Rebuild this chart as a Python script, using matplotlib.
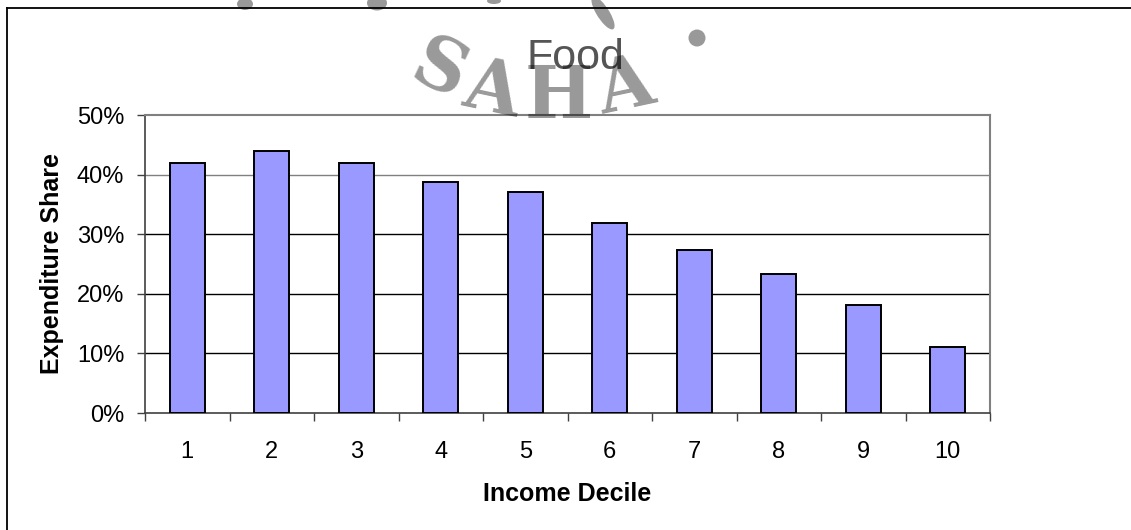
import numpy as np
import matplotlib
matplotlib.use("Agg")
import matplotlib.pyplot as plt
from matplotlib.patches import Ellipse
from matplotlib.lines import Line2D
from matplotlib.ticker import PercentFormatter

## Data
deciles = ["1", "2", "3", "4", "5", "6", "7", "8", "9", "10"]
food_share = [41.9, 43.9, 42.0, 38.8, 37.1, 31.9, 27.3, 23.4, 18.2, 11.0]
y_ticks = [0, 10, 20, 30, 40, 50]

plt.rcParams["font.family"] = ["Liberation Sans", "DejaVu Sans"]

W, H = 1131, 530
fig = plt.figure(figsize=(W / 100, H / 100), dpi=100)


def px(x, y):
    # pixel position (from top-left) -> figure fraction
    return x / W, 1 - y / H


## Outer chart frame (runs off the bottom/right of the image)
fig.add_artist(Line2D([7 / W, 7 / W], [1 - 8 / H, -0.1], color="black", lw=1.3))
fig.add_artist(Line2D([7 / W, 1.1], [1 - 8 / H, 1 - 8 / H], color="black", lw=1.3))

## Plot area
ax = fig.add_axes([145 / W, 1 - 413 / H, 845 / W, 298 / H])
x = np.arange(len(deciles))
ax.bar(x, food_share, width=0.41, color="#9999ff", edgecolor="black",
       linewidth=1.4, zorder=3)

ax.set_xlim(-0.5, len(deciles) - 0.5)
ax.set_ylim(0, 50)
ax.set_yticks(y_ticks)
ax.yaxis.set_major_formatter(PercentFormatter(decimals=0))

for v in y_ticks[1:-1]:
    ax.axhline(v, color="#808080" if v == 40 else "black", lw=1, zorder=1)

ax.set_xticks(x)
ax.set_xticklabels(deciles)
ax.set_xticks(np.arange(-0.5, len(deciles)), minor=True)
ax.tick_params(axis="x", which="major", length=0, pad=20, labelsize=17)
ax.tick_params(axis="x", which="minor", length=5.5, width=1, color="#404040")
ax.tick_params(axis="y", length=6, width=1, color="#404040", pad=9, labelsize=17)

for side in ["left", "bottom"]:
    ax.spines[side].set_color("#404040")
    ax.spines[side].set_linewidth(1.2)
for side in ["top", "right"]:
    ax.spines[side].set_color("#808080")
    ax.spines[side].set_linewidth(1.5)

ax.set_xlabel("Income Decile", fontsize=18, fontweight="bold", labelpad=14)
ax.set_ylabel("Expenditure Share", fontsize=18, fontweight="bold", labelpad=9)

## Title
fig.text(*px(575, 58), "Food", fontsize=31, color="#555555", ha="center", va="center")

## Watermark stamp
for ch, cx, cy, rot in [("S", 439, 71, -25), ("A", 492, 91, -12),
                        ("H", 559, 97, 0), ("A", 626, 88, 12)]:
    fig.text(*px(cx, cy), ch, fontsize=52, family="DejaVu Serif", fontweight="bold",
             color="black", alpha=0.4, rotation=rot, ha="center", va="center", zorder=10)
for cx, cy, w, h, ang in [(697, 38, 17, 17, 0), (377, 3, 20, 15, 0),
                          (494, 1, 14, 6, 0), (603, 13, 14, 34, 15), (245, 4, 16, 12, 0)]:
    fig.add_artist(Ellipse(px(cx, cy), w / W, h / H, angle=ang, color="black",
                           alpha=0.4, lw=0, zorder=10))

fig.savefig("out.png", dpi=100)
